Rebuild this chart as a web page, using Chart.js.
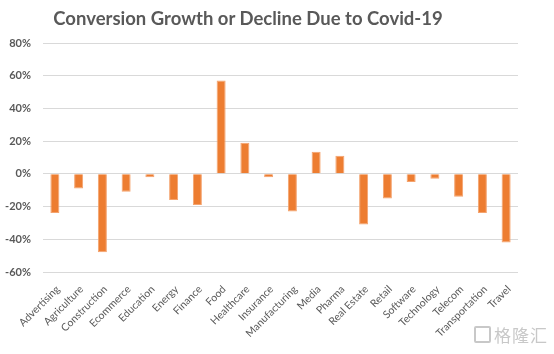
<!DOCTYPE html>
<html>
<head>
<meta charset="utf-8">
<script src="https://cdn.jsdelivr.net/npm/chart.js@4/dist/chart.umd.min.js"></script>
<style>
  html, body { margin: 0; padding: 0; background: #fff; }
  #wrap { position: relative; width: 554px; height: 354px; overflow: hidden; }
  #chart { position: absolute; left: 0; top: 0; }
  #titulo {
    position: absolute; left: 0; top: 7px; width: 496px; text-align: center;
    font: bold 18.5px Lato, "Open Sans", sans-serif; color: #595959;
  }
  #marca {
    position: absolute; right: 6px; top: 322px;
    font: 17px "Noto Sans CJK SC", sans-serif; color: #c8c8c8; letter-spacing: 1px;
  }
  #marca span {
    display: inline-block; width: 13px; height: 13px; border: 2px solid #c8c8c8;
    border-radius: 2px; margin-right: 3px; vertical-align: -1px;
  }
</style>
</head>
<body>
<div id="wrap">
  <canvas id="chart" width="554" height="354"></canvas>
  <div id="titulo">Conversion Growth or Decline Due to Covid-19</div>
  <div id="marca"><span></span>格隆汇</div>
</div>
<script>
// ---- DATOS ----
var INDUSTRIAS = ["Advertising", "Agriculture", "Construction", "Ecommerce", "Education",
  "Energy", "Finance", "Food", "Healthcare", "Insurance", "Manufacturing", "Media",
  "Pharma", "Real Estate", "Retail", "Software", "Technology", "Telecom",
  "Transportation", "Travel"];
var CAMBIO = [-24, -9, -48, -11, -2, -16, -19, 57, 19, -2, -23, 13.5, 11, -31, -15, -5, -3, -14, -24, -42];
var Y_MIN = -60, Y_MAX = 80, Y_STEP = 20;

var GRIS = "#595959";
var NARANJA = "#ED7D31";

new Chart(document.getElementById("chart"), {
  type: "bar",
  data: {
    labels: INDUSTRIAS,
    datasets: [{
      data: CAMBIO,
      backgroundColor: NARANJA,
      borderColor: "#f4a36e",
      borderWidth: 1,
      barPercentage: 0.38,
      categoryPercentage: 1
    }]
  },
  options: {
    responsive: false,
    animation: false,
    layout: { padding: { top: 43, right: 36, left: 0, bottom: 0 } },
    plugins: { legend: { display: false }, tooltip: { enabled: false } },
    scales: {
      x: {
        grid: { display: false, drawTicks: false },
        border: { display: false },
        ticks: {
          color: GRIS, font: { family: "Lato", size: 10.5 },
          maxRotation: 45, minRotation: 45, autoSkip: false,
          padding: 11, labelOffset: 3
        },
        afterFit: function(s) { s.height = 82; }
      },
      y: {
        min: Y_MIN, max: Y_MAX,
        grid: { color: "#d9d9d9", lineWidth: 1, drawTicks: false },
        border: { display: false },
        ticks: {
          stepSize: Y_STEP, padding: 12, color: GRIS,
          font: { family: "Lato", size: 11, weight: "bold" },
          callback: function(v) { return v + "%"; }
        },
        afterFit: function(s) { s.width = 43; }
      }
    }
  }
});
</script>
</body>
</html>
